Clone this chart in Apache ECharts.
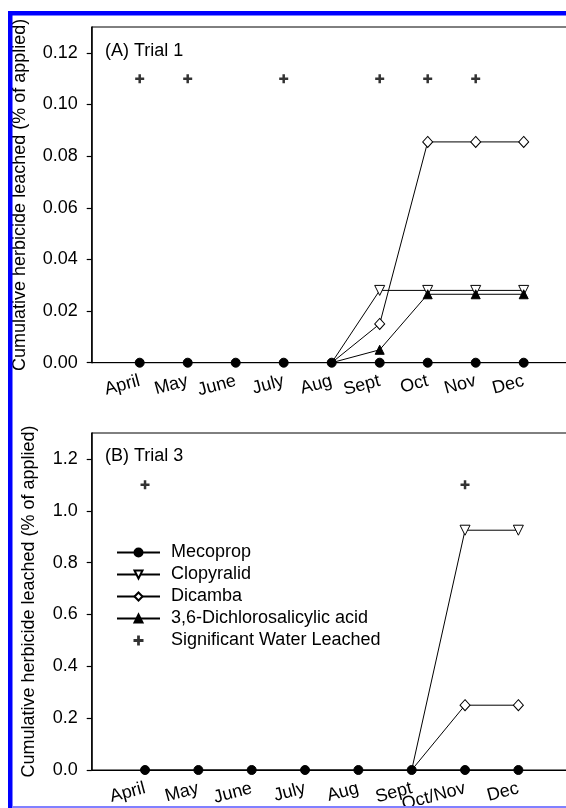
<!DOCTYPE html>
<html>
<head>
<meta charset="utf-8">
<script src="https://cdn.jsdelivr.net/npm/echarts@6/dist/echarts.min.js"></script>
<style>
  html, body { margin: 0; padding: 0; background: #fff; }
  #main { width: 566px; height: 808px; }
</style>
</head>
<body>
<div id="main"></div>
<script>
// Trial 1 (top panel)
var monthsA = ['April', 'May', 'June', 'July', 'Aug', 'Sept', 'Oct', 'Nov', 'Dec'];
var mecopropA = [0, 0, 0, 0, 0, 0, 0, 0, 0];
var clopyralidA = [null, null, null, null, 0, 0.028, 0.028, 0.028, 0.028];
var dicambaA = [null, null, null, null, 0, 0.015, 0.0855, 0.0855, 0.0855];
var dcsaA = [null, null, null, null, 0, 0.005, 0.0265, 0.0265, 0.0265];
var waterA = [0.11, 0.11, null, 0.11, null, 0.11, 0.11, 0.11, null];
var yTicksA = [0, 0.02, 0.04, 0.06, 0.08, 0.10, 0.12];

// Trial 3 (bottom panel)
var monthsB = ['April', 'May', 'June', 'July', 'Aug', 'Sept', 'Oct/Nov', 'Dec'];
var mecopropB = [0, 0, 0, 0, 0, 0, 0, 0];
var clopyralidB = [null, null, null, null, null, 0, 0.925, 0.925];
var dicambaB = [null, null, null, null, null, 0, 0.25, 0.25];
var waterB = [1.1, null, null, null, null, null, 1.1, null];
var yTicksB = [0, 0.2, 0.4, 0.6, 0.8, 1.0, 1.2];

var FONT = 'Liberation Sans, Arial, sans-serif';
var PLUS = 'path://M3.25,0H5.75V3.25H9V5.75H5.75V9H3.25V5.75H0V3.25H3.25Z';

// pair each value with its month position (1 = first month)
function pts(arr) {
  return arr.map(function (v, i) { return [i + 1, v]; });
}

// same, but the zero start point of a rising series hides under the mecoprop dot
function ptsHideZero(arr) {
  return arr.map(function (v, i) {
    if (v === 0) return { value: [i + 1, v], symbol: 'none' };
    return [i + 1, v];
  });
}

function xAxisFor(idx, months, max) {
  return {
    type: 'value', gridIndex: idx, min: 0, max: max, interval: 1,
    axisLine: { lineStyle: { color: '#000', width: 1 } },
    axisTick: { show: false },
    splitLine: { show: false },
    axisLabel: {
      rotate: 15, margin: 18, fontSize: 18, color: '#000', fontFamily: FONT,
      customValues: months.map(function (m, i) { return i + 1; }),
      formatter: function (v) { return months[v - 1] || ''; }
    }
  };
}

function yAxisFor(idx, ticks, max, digits, gap) {
  return {
    type: 'value', gridIndex: idx, min: 0, max: max,
    name: 'Cumulative herbicide leached (% of applied)',
    nameLocation: 'middle', nameGap: gap,
    nameTextStyle: { fontSize: 18, color: '#000', fontFamily: FONT },
    axisLine: { show: true, lineStyle: { color: '#000', width: 1.5 } },
    axisTick: { show: true, length: 5, customValues: ticks, lineStyle: { color: '#000', width: 1.2 } },
    splitLine: { show: false },
    axisLabel: {
      margin: 14, fontSize: 18, color: '#000', fontFamily: FONT,
      customValues: ticks,
      formatter: function (v) { return v.toFixed(digits); }
    }
  };
}

function lineSeries(name, idx, data, symbol, size, fill, rot, z) {
  return {
    name: name, type: 'line', xAxisIndex: idx, yAxisIndex: idx,
    data: z ? pts(data) : ptsHideZero(data),
    symbol: symbol, symbolSize: size, symbolRotate: rot || 0,
    showAllSymbol: true, connectNulls: false, z: z || 2,
    lineStyle: { color: '#000', width: 1 },
    itemStyle: { color: fill, borderColor: '#000', borderWidth: 1 },
    emphasis: { disabled: true }
  };
}

function waterSeries(idx, data) {
  return {
    name: 'Significant Water Leached', type: 'scatter', xAxisIndex: idx, yAxisIndex: idx,
    data: pts(data).filter(function (p) { return p[1] !== null; }),
    symbol: PLUS, symbolSize: 9, itemStyle: { color: '#000' },
    emphasis: { disabled: true }
  };
}

var chart = echarts.init(document.getElementById('main'), null, { renderer: 'canvas' });
chart.setOption({
  animation: false,
  backgroundColor: '#fff',
  textStyle: { fontFamily: FONT },
  grid: [
    { left: 91.7, top: 27, right: -5.7, height: 335.7, outerBoundsMode: 'none', containLabel: false,
      show: true, borderColor: '#000', borderWidth: 1, backgroundColor: 'transparent' },
    { left: 91.7, top: 433, right: -5.7, height: 337, outerBoundsMode: 'none', containLabel: false,
      show: true, borderColor: '#000', borderWidth: 1, backgroundColor: 'transparent' }
  ],
  xAxis: [xAxisFor(0, monthsA, 10), xAxisFor(1, monthsB, 9)],
  yAxis: [yAxisFor(0, yTicksA, 0.13, 2, 63), yAxisFor(1, yTicksB, 1.3, 1, 54)],
  legend: {
    orient: 'vertical', left: 116, top: 543.5, padding: 0,
    itemWidth: 43, itemHeight: 10, itemGap: 4, selectedMode: false,
    textStyle: { fontSize: 18, color: '#000', fontFamily: FONT, padding: [0, 0, 0, 6] },
    data: ['Mecoprop', 'Clopyralid', 'Dicamba', '3,6-Dichlorosalicylic acid', 'Significant Water Leached']
  },
  graphic: [
    { type: 'rect', shape: { x: 8, y: 11, width: 558, height: 4.5 }, style: { fill: '#0000ff' }, z: 100 },
    { type: 'rect', shape: { x: 8, y: 11, width: 4.5, height: 797 }, style: { fill: '#0000ff' }, z: 100 },
    { type: 'rect', shape: { x: 12, y: 806, width: 554, height: 2 }, style: { fill: '#8080ff' }, z: 100 },
    { type: 'text', left: 105, top: 42, style: { text: '(A) Trial 1', fill: '#000', font: '18px ' + FONT } },
    { type: 'text', left: 105, top: 447, style: { text: '(B) Trial 3', fill: '#000', font: '18px ' + FONT } }
  ],
  series: [
    lineSeries('Clopyralid', 0, clopyralidA, 'triangle', 10, '#fff', 180),
    lineSeries('Dicamba', 0, dicambaA, 'diamond', [10, 11], '#fff'),
    lineSeries('3,6-Dichlorosalicylic acid', 0, dcsaA, 'triangle', 9, '#000'),
    lineSeries('Mecoprop', 0, mecopropA, 'circle', 9, '#000', 0, 3),
    waterSeries(0, waterA),
    lineSeries('Clopyralid', 1, clopyralidB, 'triangle', 10, '#fff', 180),
    lineSeries('Dicamba', 1, dicambaB, 'diamond', [10, 11], '#fff'),
    lineSeries('Mecoprop', 1, mecopropB, 'circle', 9, '#000', 0, 3),
    waterSeries(1, waterB)
  ]
});
</script>
</body>
</html>
